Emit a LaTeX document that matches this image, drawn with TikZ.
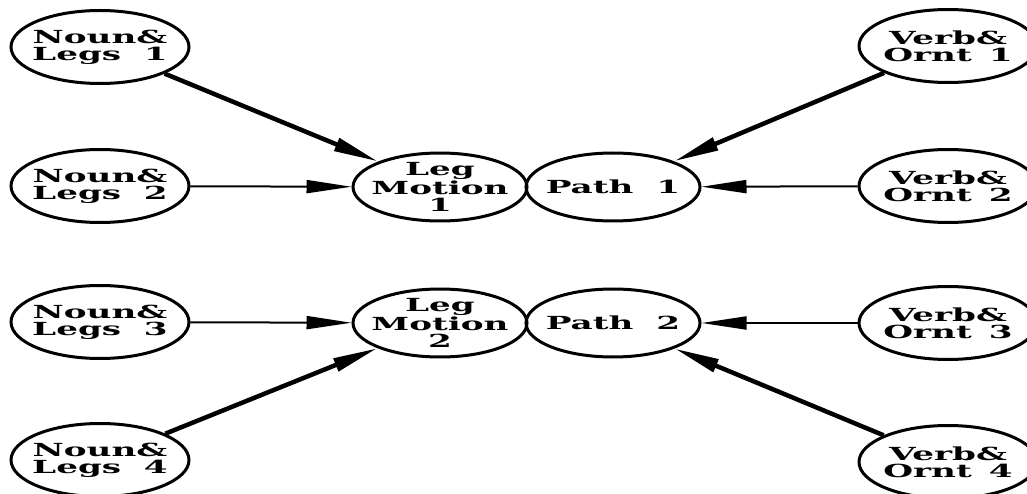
\documentclass[tikz,border=0pt]{standalone}
\usepackage{fontspec}
\newfontfamily\ovalfont{DejaVu Serif}
\newcommand\wide[1]{\scalebox{1.9}[1]{#1}}
\usetikzlibrary{shapes.geometric,arrows.meta}

\begin{document}
\begin{tikzpicture}[x=1pt,y=-1pt,
  oval/.style={ellipse,draw,line width=3pt,minimum width=178pt,minimum height=73pt,
    inner xsep=-40pt,inner ysep=-10pt,align=center,
    font=\ovalfont\bfseries\fontsize{18}{17}\selectfont},
  mid/.style={oval,minimum width=174pt,minimum height=68pt},
  feed/.style={-{Triangle[length=45pt,width=13pt]},line width=2pt},
  slant/.style={feed,line width=4.5pt}]
  \useasboundingbox (0,0) rectangle (1027,494);

  % left column
  \node[oval] (nl1) at (100,47)  {\wide{Noun\&}\\\wide{Legs\hspace{12pt}1}};
  \node[oval] (nl2) at (100,186) {\wide{Noun\&}\\\wide{Legs\hspace{12pt}2}};
  \node[oval] (nl3) at (100,322) {\wide{Noun\&}\\\wide{Legs\hspace{12pt}3}};
  \node[oval] (nl4) at (100,460) {\wide{Noun\&}\\\wide{Legs\hspace{12pt}4}};

  % middle pairs
  \node[mid] (lm1) at (440,187) {\wide{Leg}\\\wide{Motion}\\\wide{1}};
  \node[mid] (pa1) at (613,187) {\wide{Path\hspace{12pt}1}};
  \node[mid] (lm2) at (440,323) {\wide{Leg}\\\wide{Motion}\\\wide{2}};
  \node[mid] (pa2) at (613,323) {\wide{Path\hspace{12pt}2}};

  % right column
  \node[oval] (vo1) at (948,46)  {\wide{Verb\&}\\\wide{Ornt\hspace{9pt}1}};
  \node[oval] (vo2) at (948,186) {\wide{Verb\&}\\\wide{Ornt\hspace{9pt}2}};
  \node[oval] (vo3) at (948,323) {\wide{Verb\&}\\\wide{Ornt\hspace{9pt}3}};
  \node[oval] (vo4) at (948,462) {\wide{Verb\&}\\\wide{Ornt\hspace{9pt}4}};

  \draw[slant] (nl1) -- (lm1);
  \draw[feed]  (nl2) -- (lm1);
  \draw[feed]  (nl3) -- (lm2);
  \draw[slant] (nl4) -- (lm2);
  \draw[slant] (vo1) -- (pa1);
  \draw[feed]  (vo2) -- (pa1);
  \draw[feed]  (vo3) -- (pa2);
  \draw[slant] (vo4) -- (pa2);
\end{tikzpicture}
\end{document}
